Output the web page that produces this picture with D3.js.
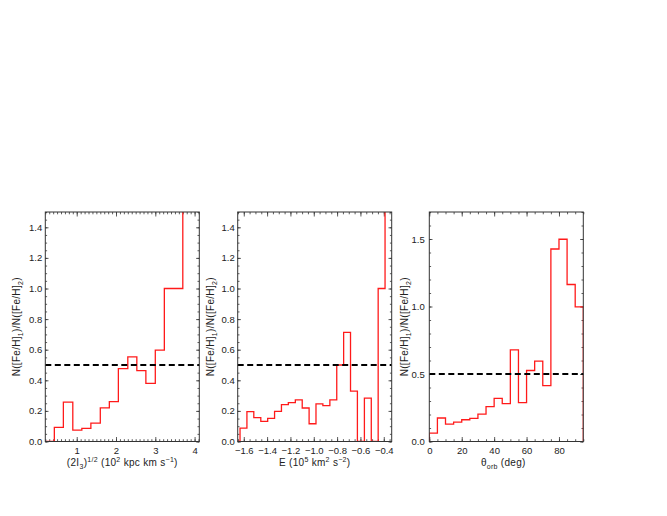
<!DOCTYPE html>
<html>
<head>
<meta charset="utf-8">
<title>Fe/H ratio histograms</title>
<script src="https://cdn.jsdelivr.net/npm/d3@7"></script>
<style>
  body { margin: 0; background: #fff; }
  text { font-family: "Liberation Sans", Arial, sans-serif; fill: #222; }
</style>
</head>
<body>
<svg id="chart" width="667" height="516"></svg>
<script>
// panel 1 : (2 I3)^1/2
var p1Edges = [0.20, 0.43, 0.66, 0.90, 1.13, 1.36, 1.60, 1.83, 2.06, 2.30, 2.53, 2.76, 3.00, 3.23, 3.46, 3.70, 3.93];
var p1Ratio = [0, 0.092, 0.257, 0.075, 0.086, 0.12, 0.22, 0.26, 0.476, 0.553, 0.463, 0.38, 0.597, 1.0, 1.0, 2.0];
var p1Ticks = [1, 2, 3, 4];
var p1YTicks = [0, 0.2, 0.4, 0.6, 0.8, 1.0, 1.2, 1.4];

// panel 2 : E
var p2Edges = [-1.70, -1.632, -1.573, -1.514, -1.454, -1.395, -1.336, -1.277, -1.218, -1.158, -1.099, -1.040,
               -0.981, -0.922, -0.862, -0.803, -0.744, -0.685, -0.626, -0.566, -0.507, -0.448, -0.389, -0.33];
var p2Ratio = [0, 0.088, 0.195, 0.156, 0.132, 0.151, 0.197, 0.241, 0.254, 0.272, 0.219, 0.116,
               0.246, 0.235, 0.272, 0.5, 0.713, 0.329, 0, 0.283, 0, 1.0, 2.0];
var p2Ticks = [-1.6, -1.4, -1.2, -1.0, -0.8, -0.6, -0.4];
var p2YTicks = [0, 0.2, 0.4, 0.6, 0.8, 1.0, 1.2, 1.4];

// panel 3 : theta_orb
var p3Edges = [0, 5, 10, 15, 20, 25, 30, 35, 40, 45, 50, 55, 60, 65, 70, 75, 80, 85, 90, 95];
var p3Ratio = [0.062, 0.174, 0.129, 0.144, 0.161, 0.171, 0.203, 0.258, 0.32, 0.28, 0.679,
               0.288, 0.526, 0.595, 0.414, 1.426, 1.498, 1.163, 0.997];
var p3Ticks = [0, 20, 40, 60, 80];
var p3YTicks = [0, 0.5, 1.0, 1.5];

var refLevel = 0.5;

var svg = d3.select("#chart");
var plotTop = 212, plotBottom = 441.5, pw = 154;

function fmt(d, digits) {
  return d3.format("." + digits + "f")(d).replace("-", "\u2212");
}

function richText(sel, parts) {
  var shift = 0;
  parts.forEach(function(p) {
    var target = p[1] === "sub" ? 3 : p[1] === "sup" ? -3.8 : 0;
    var t = sel.append("tspan").attr("dy", target - shift).text(p[0]);
    if (p[1]) t.attr("font-size", "7px");
    shift = target;
  });
}

function panel(cfg, idx) {
  var x = d3.scaleLinear().domain(cfg.xDomain).range([cfg.left, cfg.left + pw]);
  var y = d3.scaleLinear().domain(cfg.yDomain).range([plotBottom, plotTop]);
  var g = svg.append("g");

  g.append("clipPath").attr("id", "clip" + idx)
    .append("rect").attr("x", cfg.left).attr("y", plotTop).attr("width", pw).attr("height", plotBottom - plotTop);

  var xMinor = d3.range(Math.ceil(cfg.xDomain[0] / cfg.xMinor - 1e-6), Math.floor(cfg.xDomain[1] / cfg.xMinor + 1e-6) + 1)
    .map(function(k) { return k * cfg.xMinor; });
  var yMinor = d3.range(0, Math.floor(cfg.yDomain[1] / cfg.yMinor + 1e-6) + 1)
    .map(function(k) { return k * cfg.yMinor; });

  function drawAxis(axis, tr) {
    var a = g.append("g").attr("transform", tr).call(axis);
    a.select(".domain").remove();
    a.selectAll("line").attr("stroke", "#333").attr("stroke-width", 0.8);
    a.selectAll("text").attr("font-size", "9.5px").attr("fill", "#222")
      .attr("font-family", "Liberation Sans, Arial, sans-serif");
    return a;
  }

  // ticks point inward on all four sides
  drawAxis(d3.axisBottom(x).tickValues(cfg.xTicks).tickSize(-4.5).tickPadding(5.5)
    .tickFormat(function(d) { return fmt(d, cfg.xDigits); }), "translate(0," + plotBottom + ")");
  drawAxis(d3.axisBottom(x).tickValues(xMinor).tickSize(-2.3).tickFormat(""), "translate(0," + plotBottom + ")");
  drawAxis(d3.axisTop(x).tickValues(cfg.xTicks).tickSize(-4.5).tickFormat(""), "translate(0," + plotTop + ")");
  drawAxis(d3.axisTop(x).tickValues(xMinor).tickSize(-2.3).tickFormat(""), "translate(0," + plotTop + ")");

  drawAxis(d3.axisLeft(y).tickValues(cfg.yTicks).tickSize(-3.2).tickPadding(cfg.yPad)
    .tickFormat(function(d) { return fmt(d, 1); }), "translate(" + cfg.left + ",0)");
  drawAxis(d3.axisLeft(y).tickValues(yMinor).tickSize(-1.8).tickFormat(""), "translate(" + cfg.left + ",0)");
  drawAxis(d3.axisRight(y).tickValues(cfg.yTicks).tickSize(-3.2).tickFormat(""), "translate(" + (cfg.left + pw) + ",0)");
  drawAxis(d3.axisRight(y).tickValues(yMinor).tickSize(-1.8).tickFormat(""), "translate(" + (cfg.left + pw) + ",0)");

  // histogram as steps
  var e = cfg.edges, v = cfg.values, p = d3.path();
  if (cfg.closed) { p.moveTo(x(e[0]), y(0)); p.lineTo(x(e[0]), y(v[0])); }
  else p.moveTo(x(e[0]), y(v[0]));
  for (var i = 0; i < v.length; i++) {
    p.lineTo(x(e[i + 1]), y(v[i]));
    if (i + 1 < v.length) p.lineTo(x(e[i + 1]), y(v[i + 1]));
  }
  if (cfg.closed) p.lineTo(x(e[e.length - 1]), y(0));
  g.append("path").attr("d", p.toString()).attr("fill", "none")
    .attr("stroke", "#ff1a1a").attr("stroke-width", 1.3)
    .attr("clip-path", "url(#clip" + idx + ")");

  // reference line
  g.append("line").attr("x1", cfg.left).attr("x2", cfg.left + pw)
    .attr("y1", y(refLevel)).attr("y2", y(refLevel))
    .attr("stroke", "#000").attr("stroke-width", 2).attr("stroke-dasharray", "6,3.5");

  // frame
  g.append("rect").attr("x", cfg.left).attr("y", plotTop).attr("width", pw).attr("height", plotBottom - plotTop)
    .attr("fill", "none").attr("stroke", "#333").attr("stroke-width", 1);

  // labels
  var yl = g.append("text").attr("text-anchor", "middle").attr("font-size", "10px")
    .attr("letter-spacing", "0.3px")
    .attr("transform", "translate(" + cfg.yLabelX + "," + ((plotTop + plotBottom) / 2) + ") rotate(-90)");
  richText(yl, [["N([Fe/H]"], ["1", "sub"], [")/N([Fe/H]"], ["2", "sub"], [")"]]);

  var xl = g.append("text").attr("text-anchor", "middle").attr("font-size", "10px")
    .attr("letter-spacing", "0.3px")
    .attr("x", cfg.left + pw / 2 + cfg.xLabelDx).attr("y", 466);
  richText(xl, cfg.xLabel);
}

var panels = [
  { left: 45.3, xDomain: [0.2, 4.12], yDomain: [0, 1.5], edges: p1Edges, values: p1Ratio,
    xTicks: p1Ticks, xDigits: 0, xMinor: 0.1, yTicks: p1YTicks, yMinor: 0.05, closed: false,
    yLabelX: 19.5, xLabelDx: 0, yPad: 3,
    xLabel: [["(2I"], ["3", "sub"], [")"], ["1/2", "sup"], [" (10"], ["2", "sup"], [" kpc km s"], ["\u22121", "sup"], [")"]] },
  { left: 237.7, xDomain: [-1.652, -0.332], yDomain: [0, 1.5], edges: p2Edges, values: p2Ratio,
    xTicks: p2Ticks, xDigits: 1, xMinor: 0.05, yTicks: p2YTicks, yMinor: 0.05, closed: false,
    yLabelX: 213.5, xLabelDx: 0, yPad: 3,
    xLabel: [["E (10"], ["5", "sup"], [" km"], ["2", "sup"], [" s"], ["\u22122", "sup"], [")"]] },
  { left: 429.3, xDomain: [0, 95], yDomain: [0, 1.7], edges: p3Edges, values: p3Ratio,
    xTicks: p3Ticks, xDigits: 0, xMinor: 5, yTicks: p3YTicks, yMinor: 0.1, closed: true,
    yLabelX: 408, xLabelDx: -3, yPad: 4.5,
    xLabel: [["\u03b8"], ["orb", "sub"], [" (deg)"]] }
];

panels.forEach(panel);
</script>
</body>
</html>
